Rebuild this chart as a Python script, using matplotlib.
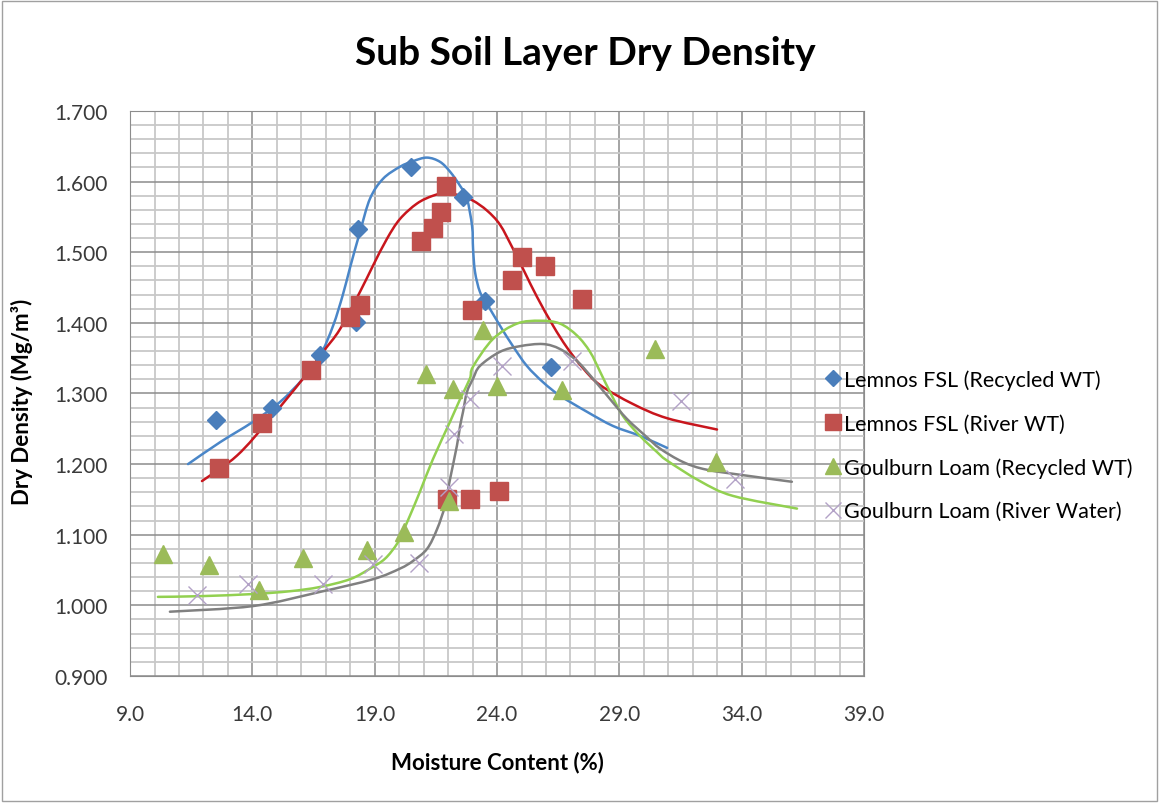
import matplotlib
matplotlib.use("Agg")
import matplotlib.pyplot as plt
from matplotlib.ticker import MultipleLocator, FormatStrFormatter
from matplotlib.patches import Rectangle, PathPatch
from matplotlib.path import Path

plt.rcParams['font.family'] = ['Lato', 'DejaVu Sans']

# ---- measured points ----
lem_rec_x = [12.51, 14.80, 16.76, 18.32, 18.24, 20.48, 22.61, 23.51, 26.21]
lem_rec_y = [1.263, 1.280, 1.355, 1.533, 1.401, 1.621, 1.578, 1.431, 1.338]

lem_riv_x = [12.64, 14.39, 16.40, 17.99, 18.40, 20.89, 21.38, 21.71, 21.91,
             22.98, 24.61, 25.02, 25.96, 27.47, 21.95, 22.89, 24.08]
lem_riv_y = [1.195, 1.258, 1.333, 1.408, 1.425, 1.516, 1.535, 1.557, 1.594,
             1.418, 1.461, 1.493, 1.481, 1.434, 1.151, 1.151, 1.162]

gou_rec_x = [10.35, 12.23, 14.27, 16.07, 18.69, 20.20, 21.10, 22.04, 22.20,
             23.43, 24.00, 26.65, 30.45, 32.95]
gou_rec_y = [1.073, 1.057, 1.022, 1.067, 1.078, 1.104, 1.328, 1.148, 1.307,
             1.390, 1.311, 1.305, 1.363, 1.203]

gou_riv_x = [11.74, 13.82, 16.89, 18.93, 20.81, 22.04, 22.24, 22.89, 24.20,
             27.06, 31.52, 33.72]
gou_riv_y = [1.015, 1.030, 1.030, 1.059, 1.060, 1.168, 1.243, 1.292, 1.339,
             1.346, 1.290, 1.179]

# ---- trend lines ----
lem_rec_tx = [11.37, 12.68, 14.03, 15.13, 16.07, 16.76, 17.30, 17.70, 17.99, 18.40,
              18.81, 19.34, 20.03, 20.57, 21.14, 21.67, 22.08, 22.49, 22.77, 22.98,
              23.02, 23.10, 23.30, 23.59, 24.12, 24.65, 25.22, 25.88, 26.57, 27.68,
              28.74, 29.84, 30.95]
lem_rec_ty = [1.200, 1.231, 1.260, 1.288, 1.321, 1.353, 1.396, 1.440, 1.478, 1.529,
              1.576, 1.604, 1.621, 1.629, 1.634, 1.628, 1.614, 1.594, 1.576, 1.537,
              1.505, 1.472, 1.444, 1.427, 1.396, 1.367, 1.339, 1.316, 1.297, 1.274,
              1.254, 1.240, 1.223]

lem_riv_tx = [11.94, 13.37, 14.72, 16.07, 16.89, 17.58, 18.40, 18.93, 19.50, 20.03,
              20.73, 21.38, 21.95, 22.49, 23.02, 23.59, 24.12, 24.65, 25.14, 25.63,
              26.29, 26.86, 27.51, 28.21, 29.56, 30.95, 32.99]
lem_riv_ty = [1.176, 1.212, 1.264, 1.321, 1.359, 1.391, 1.444, 1.481, 1.519, 1.547,
              1.569, 1.580, 1.584, 1.580, 1.573, 1.559, 1.539, 1.505, 1.471, 1.437,
              1.396, 1.365, 1.336, 1.312, 1.285, 1.265, 1.249]

gou_rec_tx = [10.14, 11.86, 14.03, 15.54, 16.76, 17.99, 18.81, 19.42, 19.91, 20.16,
              20.44, 20.85, 21.38, 22.08, 22.49, 22.89, 23.02, 23.83, 24.82, 25.76,
              26.57, 27.27, 27.80, 28.21, 28.62, 29.15, 29.84, 30.54, 30.95, 32.29,
              33.64, 36.26]
gou_rec_ty = [1.012, 1.013, 1.016, 1.020, 1.026, 1.037, 1.052, 1.066, 1.087, 1.105,
              1.127, 1.161, 1.207, 1.260, 1.292, 1.321, 1.338, 1.377, 1.399, 1.403,
              1.399, 1.382, 1.359, 1.331, 1.302, 1.268, 1.240, 1.217, 1.205, 1.176,
              1.155, 1.137]

gou_riv_tx = [10.63, 14.03, 16.76, 18.93, 20.03, 20.57, 21.14, 21.55, 21.87, 22.08,
              22.36, 22.49, 22.61, 22.77, 23.02, 23.30, 24.12, 24.94, 25.88, 26.57,
              27.27, 27.92, 28.62, 29.31, 30.13, 30.66, 31.60, 32.58, 34.34, 36.05]
gou_riv_ty = [0.991, 0.999, 1.019, 1.037, 1.052, 1.063, 1.080, 1.108, 1.141, 1.179,
              1.226, 1.254, 1.274, 1.302, 1.321, 1.339, 1.359, 1.367, 1.370, 1.363,
              1.346, 1.321, 1.292, 1.264, 1.238, 1.222, 1.203, 1.192, 1.183, 1.175]

labels = ['Lemnos FSL (Recycled WT)', 'Lemnos FSL (River WT)',
          'Goulburn Loam (Recycled WT)', 'Goulburn Loam (River Water)']


def smooth_line(ax, xs, ys, color):
    """Draw a smoothed line through the given points (like a spreadsheet
    'smoothed line'), using cubic Bezier path segments."""
    pts = list(zip(xs, ys))
    n = len(pts)
    verts = [pts[0]]
    codes = [Path.MOVETO]
    for i in range(n - 1):
        p0 = pts[i - 1] if i > 0 else pts[i]
        p1 = pts[i]
        p2 = pts[i + 1]
        p3 = pts[i + 2] if i + 2 < n else pts[i + 1]
        c1 = (p1[0] + (p2[0] - p0[0]) / 6.0, p1[1] + (p2[1] - p0[1]) / 6.0)
        c2 = (p2[0] - (p3[0] - p1[0]) / 6.0, p2[1] - (p3[1] - p1[1]) / 6.0)
        verts += [c1, c2, p2]
        codes += [Path.CURVE4] * 3
    patch = PathPatch(Path(verts, codes), facecolor='none', edgecolor=color,
                      lw=1.8, zorder=2, joinstyle='round', capstyle='round')
    ax.add_patch(patch)


fig = plt.figure(figsize=(11.59, 8.04), dpi=100)
ax = fig.add_axes([0.1122, 0.158, 0.6333, 0.7027])

ax.set_xlim(9, 39)
ax.set_ylim(0.9, 1.7)
ax.xaxis.set_major_locator(MultipleLocator(5, offset=4))
ax.xaxis.set_minor_locator(MultipleLocator(1))
ax.yaxis.set_major_locator(MultipleLocator(0.1))
ax.yaxis.set_minor_locator(MultipleLocator(0.02))
ax.xaxis.set_major_formatter(FormatStrFormatter('%.1f'))
ax.yaxis.set_major_formatter(FormatStrFormatter('%.3f'))
ax.grid(which='minor', color='#C8C8C8', lw=1.3)
ax.grid(which='major', color='#8C8C8C', lw=1.1)
ax.set_axisbelow(True)
for s in ax.spines.values():
    s.set_color('#8C8C8C')
ax.tick_params(which='both', length=0, labelsize=15, colors='#3A3A3A')
ax.tick_params(axis='y', pad=16)
ax.tick_params(axis='x', pad=20)

# trend lines
smooth_line(ax, lem_rec_tx, lem_rec_ty, '#4A86C8')
smooth_line(ax, lem_riv_tx, lem_riv_ty, '#C8161D')
smooth_line(ax, gou_rec_tx, gou_rec_ty, '#92D050')
smooth_line(ax, gou_riv_tx, gou_riv_ty, '#808080')

# points
h1, = ax.plot(lem_rec_x, lem_rec_y, ls='none', marker='D', ms=9, color='#4A7EBB', mec='#4A7EBB', zorder=3)
h2, = ax.plot(lem_riv_x, lem_riv_y, ls='none', marker='s', ms=13, color='#C0504D', mec='#C0504D', zorder=3)
h3, = ax.plot(gou_rec_x, gou_rec_y, ls='none', marker='^', ms=13, color='#9BBB59', mec='#9BBB59', zorder=3)
h4, = ax.plot(gou_riv_x, gou_riv_y, ls='none', marker='x', ms=13, mew=1.0, color='#B3A2C7', zorder=3)

fig.text(0.4288, 0.051, 'Moisture Content (%)', ha='center', va='center',
         fontsize=16, fontweight='bold')
fig.text(0.019, 0.5, 'Dry Density (Mg/m³)', ha='center', va='center',
         rotation=90, fontsize=16, fontweight='bold')

fig.text(0.505, 0.934, 'Sub Soil Layer Dry Density', ha='center', va='center',
         fontsize=28, fontweight='bold')

leg = fig.legend([h1, h2, h3, h4], labels, loc='center left',
                 bbox_to_anchor=(0.695, 0.445), frameon=False, fontsize=15.5,
                 handlelength=0.8, handletextpad=0.1, labelspacing=1.1,
                 markerscale=0.85)

fig.patches.append(Rectangle((0.002, 0.002), 0.996, 0.996, transform=fig.transFigure,
                             fill=False, edgecolor='#A0A0A0', lw=1.0))

fig.savefig('out.png', dpi=100)
